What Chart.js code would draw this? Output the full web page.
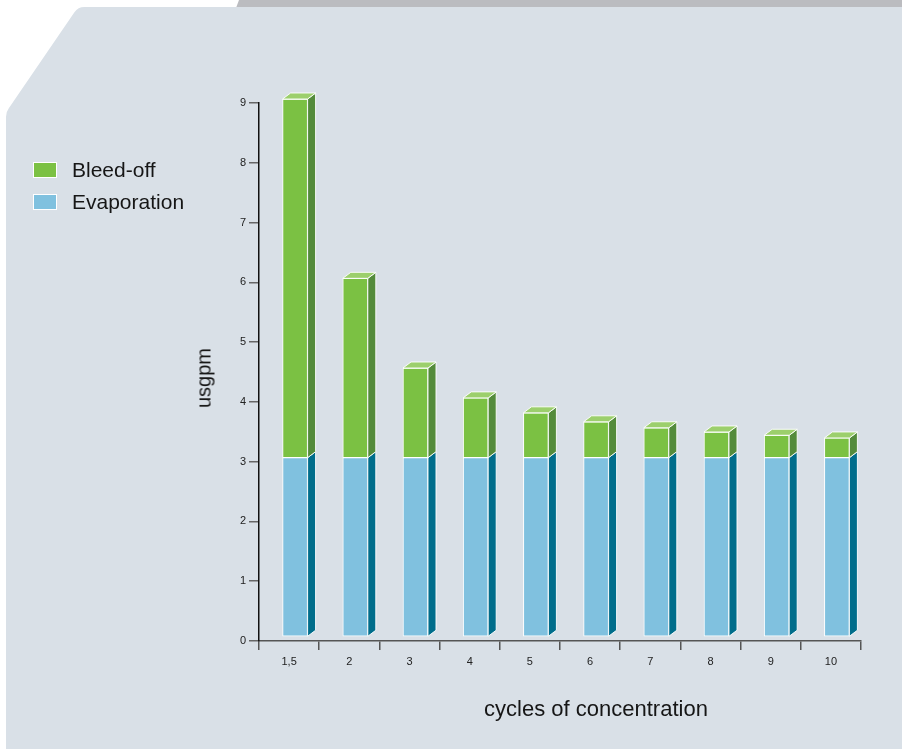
<!DOCTYPE html>
<html>
<head>
<meta charset="utf-8">
<script src="https://cdn.jsdelivr.net/npm/chart.js@4.4.1/dist/chart.umd.min.js"></script>
<style>
    body { margin: 0; background: #fff; font-family: "Liberation Sans", Arial, sans-serif; }
    #marco { position: relative; width: 902px; height: 749px; overflow: hidden; }
    #grafica { position: absolute; left: 0; top: 0; }
    .leyenda { position: absolute; left: 33px; display: flex; align-items: center; font-size: 21px; color: #161616; }
    .leyenda span { display: inline-block; width: 24px; height: 16px; box-sizing: border-box; border: 1px solid #fff; margin-right: 15px; }
    #tituloY { position: absolute; left: 204px; top: 378px; font-size: 20px; color: #161616;
               transform: translate(-50%, -50%) rotate(-90deg); white-space: nowrap; }
    #tituloX { position: absolute; left: 596px; top: 709px; font-size: 22px; color: #161616;
               transform: translate(-50%, -50%); white-space: nowrap; }
</style>
</head>
<body>
<div id="marco">
    <canvas id="grafica" width="902" height="749"></canvas>
    <div class="leyenda" style="top:158px"><span style="background:#7bc143"></span>Bleed-off</div>
    <div class="leyenda" style="top:190px"><span style="background:#80c1df"></span>Evaporation</div>
    <div id="tituloY">usgpm</div>
    <div id="tituloX">cycles of concentration</div>
</div>
<script>
const ciclos = ["1,5", "2", "3", "4", "5", "6", "7", "8", "9", "10"];
const evaporacion = [3, 3, 3, 3, 3, 3, 3, 3, 3, 3];
const purga = [6, 3, 1.5, 1, 0.75, 0.6, 0.5, 0.43, 0.375, 0.33];
const ticksY = [0, 1, 2, 3, 4, 5, 6, 7, 8, 9];

const coloresFrente = ["#80c1df", "#7bc143"];
const coloresLado   = ["#006d8b", "#548b3b"];
const colorTapa     = "#9ccf6c";
const prof = { dx: 8, dy: 6 };

Chart.defaults.font.family = '"Liberation Sans", Arial, sans-serif';

// fondo gris azulado con la esquina cortada
const fondo = {
    id: "fondo",
    beforeDraw(chart) {
        const ctx = chart.ctx;
        ctx.save();
        ctx.fillStyle = "#bbbcc0";
        ctx.beginPath();
        ctx.moveTo(239, 0);
        ctx.lineTo(902, 0);
        ctx.lineTo(902, 8);
        ctx.lineTo(236, 8);
        ctx.closePath();
        ctx.fill();

        ctx.fillStyle = "#d9e0e7";
        ctx.beginPath();
        ctx.moveTo(902, 7);
        ctx.lineTo(902, 749);
        ctx.lineTo(6, 749);
        ctx.arcTo(6, 112, 12, 104, 14);
        ctx.arcTo(78, 7, 92, 7, 12);
        ctx.closePath();
        ctx.fill();
        ctx.restore();
    }
};

// caras laterales y tapa para el efecto 3D
const barras3d = {
    id: "barras3d",
    beforeDatasetsDraw(chart) {
        chart.ctx.save();
        chart.ctx.translate(6, -4);
    },
    afterDatasetsDraw(chart) {
        const ctx = chart.ctx;
        const n = chart.data.datasets.length;
        ctx.lineWidth = 1;
        ctx.strokeStyle = "rgba(255,255,255,0.9)";
        ctx.lineJoin = "round";
        for (let d = 0; d < n; d++) {
            const meta = chart.getDatasetMeta(d);
            meta.data.forEach(bar => {
                const p = bar.getProps(["x", "y", "base", "width"], true);
                const izq = p.x - p.width / 2;
                const der = p.x + p.width / 2;
                const arriba = Math.min(p.y, p.base);
                const abajo = Math.max(p.y, p.base);

                ctx.fillStyle = coloresLado[d];
                ctx.beginPath();
                ctx.moveTo(der, arriba);
                ctx.lineTo(der + prof.dx, arriba - prof.dy);
                ctx.lineTo(der + prof.dx, abajo - prof.dy);
                ctx.lineTo(der, abajo);
                ctx.closePath();
                ctx.fill();
                ctx.stroke();

                if (d === n - 1) {
                    ctx.fillStyle = colorTapa;
                    ctx.beginPath();
                    ctx.moveTo(izq, arriba);
                    ctx.lineTo(izq + prof.dx, arriba - prof.dy);
                    ctx.lineTo(der + prof.dx, arriba - prof.dy);
                    ctx.lineTo(der, arriba);
                    ctx.closePath();
                    ctx.fill();
                    ctx.stroke();
                }
            });
        }
        ctx.restore();
    }
};

const ctx = document.getElementById("grafica").getContext("2d");

new Chart(ctx, {
    type: "bar",
    data: {
        labels: ciclos,
        datasets: [{
            label: "Evaporation",
            data: evaporacion,
            backgroundColor: coloresFrente[0],
            borderColor: "#fff",
            borderWidth: 1,
            borderSkipped: false,
            barThickness: 25
        }, {
            label: "Bleed-off",
            data: purga,
            backgroundColor: coloresFrente[1],
            borderColor: "#fff",
            borderWidth: 1,
            borderSkipped: false,
            barThickness: 25
        }]
    },
    options: {
        responsive: false,
        animation: false,
        layout: { padding: { left: 0, top: 103, right: 41, bottom: 0 } },
        plugins: {
            legend: { display: false },
            tooltip: { enabled: false }
        },
        scales: {
            x: {
                stacked: true,
                afterFit: s => { s.height = 108; },
                border: { color: "#555", width: 1.5 },
                grid: { offset: true, drawOnChartArea: false, tickLength: 9, color: "#555", lineWidth: 1.5 },
                ticks: { color: "#222", font: { size: 11 }, padding: 5 }
            },
            y: {
                stacked: true,
                min: 0,
                max: 9,
                afterFit: s => { s.width = 259; },
                afterBuildTicks: s => { s.ticks = ticksY.map(v => ({ value: v })); },
                border: { color: "#111", width: 1.5 },
                grid: { drawOnChartArea: false, tickLength: 10, color: "#666", lineWidth: 1.5 },
                ticks: { color: "#222", font: { size: 11 }, padding: 3 }
            }
        }
    },
    plugins: [fondo, barras3d]
});
</script>
</body>
</html>
